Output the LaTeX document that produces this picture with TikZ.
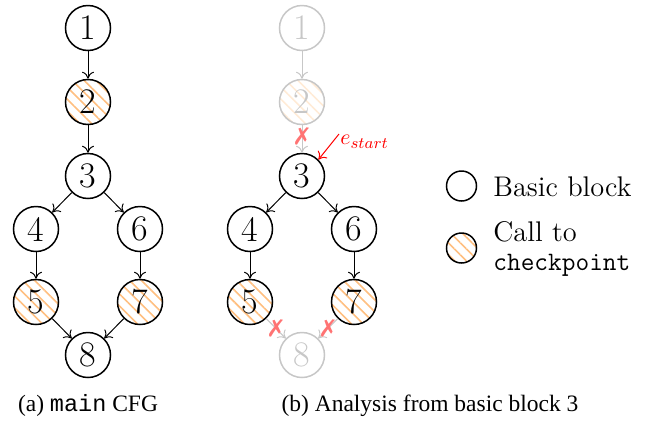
\documentclass[tikz,border=0pt]{standalone}
\usepackage{fontspec}
\usepackage{pifont}
\newfontfamily\capfont{Liberation Serif}
\newfontfamily\capmono{Liberation Mono}
\usetikzlibrary{arrows.meta,patterns.meta}
\tikzset{
  bb/.style={circle, draw, line width=0.75pt, minimum size=22.5pt, inner sep=0pt,
    font=\fontsize{18}{18}\selectfont},
  cp/.style={pattern={Lines[angle=-45,distance=4.2pt,line width=0.8pt]}, pattern color=orange!50},
  faded/.style={draw=black!22, text=black!22},
  fadedcp/.style={pattern={Lines[angle=-45,distance=4.2pt,line width=0.8pt]}, pattern color=orange!16},
  edge/.style={line width=0.5pt, -{To[length=3.5pt,width=6pt]}},
  fedge/.style={edge, draw=black!22},
  xmark/.style={text=red!55, font=\fontsize{12}{12}\selectfont, inner sep=0pt},
  leg/.style={circle, draw, line width=0.75pt, minimum size=15pt, inner sep=0pt},
  legtext/.style={anchor=west, inner sep=0pt, align=left, font=\fontsize{14.2}{14.5}\selectfont},
  captext/.style={anchor=base, inner sep=0pt, font=\capfont\fontsize{11.75}{14}\selectfont}
}
\begin{document}
\begin{tikzpicture}[x=0.5pt,y=-0.5pt]
\useasboundingbox (0,0) rectangle (654,424);
% (a) main CFG
\node[bb] (a1) at (88,28) {1};
\node[bb,cp] (a2) at (88,102) {2};
\node[bb] (a3) at (88,176) {3};
\node[bb] (a4) at (36,229) {4};
\node[bb] (a6) at (140,229) {6};
\node[bb,cp] (a5) at (36,302) {5};
\node[bb,cp] (a7) at (140,302) {7};
\node[bb] (a8) at (88,355) {8};
\draw[edge] (a1) -- (a2);
\draw[edge] (a2) -- (a3);
\draw[edge] (a3) -- (a4);
\draw[edge] (a3) -- (a6);
\draw[edge] (a4) -- (a5);
\draw[edge] (a6) -- (a7);
\draw[edge] (a5) -- (a8);
\draw[edge] (a7) -- (a8);
% (b) analysis from basic block 3
\node[bb,faded] (b1) at (302,28) {1};
\node[bb,faded,fadedcp] (b2) at (302,102) {2};
\node[bb] (b3) at (302,176) {3};
\node[bb] (b4) at (250,229) {4};
\node[bb] (b6) at (354,229) {6};
\node[bb,cp] (b5) at (250,302) {5};
\node[bb,cp] (b7) at (354,302) {7};
\node[bb,faded] (b8) at (302,355) {8};
\draw[fedge] (b1) -- (b2);
\draw[fedge] (b2) -- node[xmark,pos=0.4] (x1) {\ding{55}} (b3);
\draw[edge] (b3) -- (b4);
\draw[edge] (b3) -- (b6);
\draw[edge] (b4) -- (b5);
\draw[edge] (b6) -- (b7);
\draw[fedge] (b5) -- node[xmark] (x2) {\ding{55}} (b8);
\draw[fedge] (b7) -- node[xmark] (x3) {\ding{55}} (b8);
\node[red, anchor=north west, inner sep=0.5pt, font=\fontsize{11}{11}\selectfont] (es) at (339,134) {$e_{start}$};
\draw[red, line width=0.5pt, -{To[length=3.5pt,width=6pt]}] (es.north west) -- (b3.north east);
% legend
\node[leg] (lg1) at (461.5,186) {};
\node[legtext] (lt1) at (493,187) {Basic block};
\node[leg,cp] (lg2) at (461.5,248) {};
\node[legtext] (lt2) at (493,249) {Call to\\{\fontsize{13.3}{14.5}\selectfont\texttt{checkpoint}}};
% captions
\node[captext] (capa) at (88,411) {(a) {\capmono main} CFG};
\node[captext] (capb) at (430,411) {(b) Analysis from basic block 3};
\end{tikzpicture}
\end{document}
